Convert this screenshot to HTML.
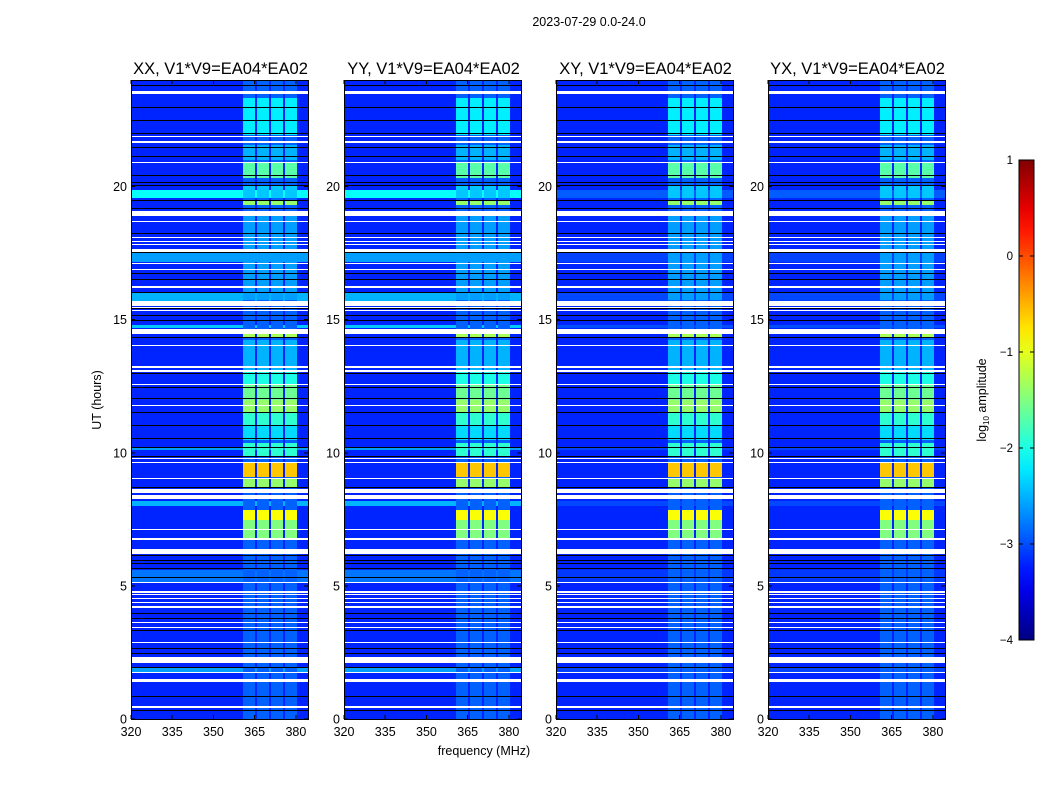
<!DOCTYPE html>
<html><head><meta charset="utf-8"><style>
body{margin:0;background:#fff;width:1050px;height:800px;overflow:hidden}
svg{position:absolute;left:0;top:0;font-family:"Liberation Sans",sans-serif}
</style></head><body>
<svg id="fig" width="1050" height="800"></svg>
<script>
// ---- data ----
const panelTitles = ["XX, V1*V9=EA04*EA02","YY, V1*V9=EA04*EA02","XY, V1*V9=EA04*EA02","YX, V1*V9=EA04*EA02"];
const panelLefts = [131,344,556,768];
const bgBandScale = [1,1,0.25,0.25];
const xTicks = [320,335,350,365,380];
const yTicks = [0,5,10,15,20];
const cbTicks = [1,0,-1,-2,-3,-4];
const cbTickLabels = ["1","0","\u22121","\u22122","\u22123","\u22124"];
const backgroundLevel = -3.2;
const bandColumns = [[360.8,365.2],[365.8,370.2],[370.9,375.3],[376.0,380.4]];
const columnBase = -2.9;
const bgBands = [[19.57,19.87,-2.1],[17.16,17.5,-2.6],[15.66,16.0,-2.5],[14.68,14.8,-2.4],[10.1,10.21,-2.6],[8.0,8.19,-2.5],[5.14,5.6,-2.8],[1.77,1.95,-2.6]];
const brightBlocks = [[21.93,23.32,-2.2],[20.99,21.55,-2.5],[20.32,20.88,-1.7],[19.57,20.05,-2.4],[19.3,19.49,-1.4],[15.73,18.93,-2.6],[14.34,14.5,-1.3],[13.1,14.23,-2.5],[12.54,13.03,-2.0],[11.98,12.54,-1.6],[11.53,11.98,-1.4],[11.04,11.53,-1.9],[10.48,11.04,-2.3],[9.84,10.36,-1.9],[9.09,9.61,-0.6],[8.71,9.05,-1.4],[7.47,7.85,-0.9],[6.72,7.47,-1.5]];
const blackLines = [23.81,22.98,22.49,22.0,21.48,21.14,20.42,20.16,20.05,19.49,19.19,18.25,17.54,16.75,16.52,16.03,15.43,15.17,14.98,14.34,12.99,12.47,12.05,11.53,11.04,10.55,10.21,9.88,8.71,6.16,5.97,5.86,5.67,5.33,3.98,3.79,3.34,2.67,2.48,1.95,0.86,0.34];
const whiteRows = [[23.47,23.6],[21.86,21.9],[21.63,21.7],[20.88,20.92],[18.89,19.08],[18.66,18.7],[18.06,18.1],[17.91,17.95],[17.8,17.84],[17.53,17.65],[17.1,17.14],[16.88,16.92],[16.24,16.28],[16.17,16.21],[15.5,15.7],[15.45,15.49],[15.34,15.38],[14.46,14.65],[14.02,14.06],[13.2,13.24],[13.05,13.09],[12.56,12.6],[11.74,11.78],[9.78,9.82],[9.63,9.67],[9.03,9.07],[8.49,8.64],[8.26,8.41],[7.08,7.12],[6.74,6.78],[6.2,6.38],[5.09,5.13],[4.75,4.79],[4.64,4.68],[4.49,4.53],[4.34,4.38],[4.17,4.25],[3.62,3.66],[3.43,3.47],[2.87,2.91],[2.1,2.33],[1.71,1.75],[1.39,1.5],[0.43,0.47]];

// ---- helpers ----
const NS="http://www.w3.org/2000/svg";
const fig=document.getElementById('fig');
function el(tag,attrs,parent){const e=document.createElementNS(NS,tag);for(const k in attrs)e.setAttribute(k,attrs[k]);(parent||fig).appendChild(e);return e;}
function jet(v){let t=(v+4)/5;t=Math.max(0,Math.min(1,t));
 const c=x=>Math.round(255*Math.max(0,Math.min(1,x)));
 return `rgb(${c(1.5-Math.abs(4*t-3))},${c(1.5-Math.abs(4*t-2))},${c(1.5-Math.abs(4*t-1))})`;}
const PW=177, PT=80, PB=719, FMIN=320, FMAX=384.4, HMAX=24;
function yS(h){return PB-(h/HMAX)*(PB-PT);}

panelTitles.forEach((title,p)=>{
 const L=panelLefts[p];
 const xS=f=>L+(f-FMIN)/(FMAX-FMIN)*PW;
 const g=el('g',{'shape-rendering':'crispEdges'});
 
 
 const bg=el('rect',{x:L,y:PT,width:PW,height:PB-PT,fill:jet(backgroundLevel)},g);
 
 
 bgBands.forEach(b=>{
  const v=backgroundLevel+(b[2]-backgroundLevel)*bgBandScale[p];
  const r=el('rect',{x:L,y:yS(b[1]),width:PW,height:yS(b[0])-yS(b[1]),fill:jet(v)},g);
  
  
 });
 bandColumns.forEach(c=>{
  const r=el('rect',{x:xS(c[0]),y:PT,width:xS(c[1])-xS(c[0]),height:PB-PT,fill:jet(columnBase)},g);
  
  
  brightBlocks.forEach(b=>{
   const q=el('rect',{x:xS(c[0]),y:yS(b[1]),width:xS(c[1])-xS(c[0]),height:yS(b[0])-yS(b[1]),fill:jet(b[2])},g);
   
   
  });
 });
 blackLines.forEach(h=>{
  const r=el('rect',{x:L,y:Math.round(yS(h)),width:PW,height:1,fill:'#000'},g);
  
  
 });
 whiteRows.forEach(w=>{
  const y0=Math.round(yS(w[1])), y1=Math.max(y0+1,Math.round(yS(w[0])));
  const r=el('rect',{x:L,y:y0,width:PW,height:y1-y0,fill:'#fff'},g);
  
  
 });
 const fr=el('rect',{x:L+0.5,y:PT+0.5,width:PW,height:PB-PT,fill:'none',stroke:'#000','stroke-width':1},g);
 
 
 const t=el('text',{x:L+PW/2+1,y:74,'text-anchor':'middle','font-size':16.5},g);t.textContent=title;
 
 
 xTicks.forEach(f=>{
  el('line',{x1:xS(f),x2:xS(f),y1:PB,y2:PB-4,stroke:'#000'},g);
  el('line',{x1:xS(f),x2:xS(f),y1:PT,y2:PT+4,stroke:'#000'},g);
  const tl=el('text',{x:xS(f),y:PB+17,'text-anchor':'middle','font-size':12.5},g);tl.textContent=f;
  
  
 });
 yTicks.forEach(h=>{
  el('line',{x1:L,x2:L+4,y1:yS(h),y2:yS(h),stroke:'#000'},g);
  el('line',{x1:L+PW,x2:L+PW-4,y1:yS(h),y2:yS(h),stroke:'#000'},g);
  const tl=el('text',{x:L-4,y:yS(h)+4.5,'text-anchor':'end','font-size':12.5},g);tl.textContent=h;
  
  
 });
});

const st=el('text',{x:589,y:26,'text-anchor':'middle','font-size':12.5});st.textContent="2023-07-29 0.0-24.0";


const yl=el('text',{x:0,y:0,'text-anchor':'middle','font-size':12.5,transform:'translate(101,400) rotate(-90)'});yl.textContent="UT (hours)";


const xl=el('text',{x:484,y:755,'text-anchor':'middle','font-size':12.5});xl.textContent="frequency (MHz)";



// colorbar
const defs=el('defs',{});
const lg=el('linearGradient',{id:'jetg',x1:0,y1:1,x2:0,y2:0},defs);
for(let i=0;i<=20;i++){el('stop',{offset:i/20,'stop-color':jet(-4+5*i/20)},lg);}
const CBT=160,CBB=640,CBL=1019,CBW=15;
const cb=el('rect',{x:CBL,y:CBT,width:CBW,height:CBB-CBT,fill:'url(#jetg)',stroke:'#000','stroke-width':1});


const cbY=v=>CBB-(v+4)/5*(CBB-CBT);
cbTicks.forEach((v,i)=>{
 el('line',{x1:CBL,x2:CBL+4,y1:cbY(v),y2:cbY(v),stroke:'#000'});
 el('line',{x1:CBL+CBW,x2:CBL+CBW-4,y1:cbY(v),y2:cbY(v),stroke:'#000'});
 const tl=el('text',{x:1013,y:cbY(v)+4,'text-anchor':'end','font-size':11.5});tl.textContent=cbTickLabels[i];
 
 
});
const cl=el('text',{x:0,y:0,'text-anchor':'middle','font-size':12.5,transform:'translate(986,400) rotate(-90)'});
cl.innerHTML='log<tspan font-size="8" dy="3">10</tspan><tspan dy="-3"> amplitude</tspan>';


</script>
</body></html>
